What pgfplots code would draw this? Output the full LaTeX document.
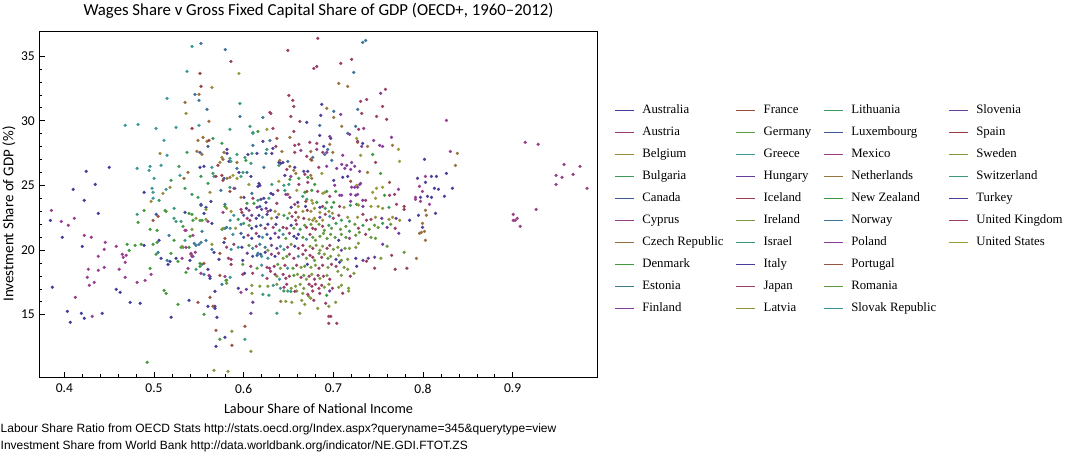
\documentclass[border=0pt]{standalone}
\usepackage{fontspec}
\usepackage{pgfplots}
\pgfplotsset{compat=1.18}
\setmainfont{Carlito}
\newfontfamily\labfont{Carlito}
\newfontfamily\legfont{Liberation Serif}
\newfontfamily\notefont{Liberation Sans}
\definecolor{AUS}{rgb}{0.247,0.240,0.600}
\definecolor{AUT}{rgb}{0.600,0.240,0.443}
\definecolor{BEL}{rgb}{0.600,0.547,0.240}
\definecolor{BGR}{rgb}{0.240,0.600,0.337}
\definecolor{CAN}{rgb}{0.240,0.354,0.600}
\definecolor{CYP}{rgb}{0.600,0.240,0.564}
\definecolor{CZE}{rgb}{0.600,0.426,0.240}
\definecolor{DNK}{rgb}{0.265,0.600,0.240}
\definecolor{EST}{rgb}{0.240,0.475,0.600}
\definecolor{FIN}{rgb}{0.515,0.240,0.600}
\definecolor{FRA}{rgb}{0.600,0.305,0.240}
\definecolor{DEU}{rgb}{0.385,0.600,0.240}
\definecolor{GRC}{rgb}{0.240,0.596,0.600}
\definecolor{HUN}{rgb}{0.394,0.240,0.600}
\definecolor{ISL}{rgb}{0.600,0.240,0.296}
\definecolor{IRL}{rgb}{0.506,0.600,0.240}
\definecolor{ISR}{rgb}{0.240,0.600,0.483}
\definecolor{ITA}{rgb}{0.273,0.240,0.600}
\definecolor{JPN}{rgb}{0.600,0.240,0.417}
\definecolor{LVA}{rgb}{0.600,0.573,0.240}
\definecolor{LTU}{rgb}{0.240,0.600,0.362}
\definecolor{LUX}{rgb}{0.240,0.328,0.600}
\definecolor{MEX}{rgb}{0.600,0.240,0.538}
\definecolor{NLD}{rgb}{0.600,0.452,0.240}
\definecolor{NZL}{rgb}{0.240,0.600,0.241}
\definecolor{NOR}{rgb}{0.240,0.449,0.600}
\definecolor{POL}{rgb}{0.541,0.240,0.600}
\definecolor{PRT}{rgb}{0.600,0.331,0.240}
\definecolor{ROU}{rgb}{0.360,0.600,0.240}
\definecolor{SVK}{rgb}{0.240,0.570,0.600}
\definecolor{SVN}{rgb}{0.420,0.240,0.600}
\definecolor{ESP}{rgb}{0.600,0.240,0.270}
\definecolor{SWE}{rgb}{0.481,0.600,0.240}
\definecolor{CHE}{rgb}{0.240,0.600,0.509}
\definecolor{TUR}{rgb}{0.299,0.240,0.600}
\definecolor{GBR}{rgb}{0.600,0.240,0.391}
\definecolor{USA}{rgb}{0.600,0.599,0.240}
\pgfplotsset{dot/.style={only marks, mark=*, mark size=1.55bp, forget plot, color=#1, mark options={line width=0.2bp}}}
\begin{document}
\begin{tikzpicture}
\path[use as bounding box] (0bp,0bp) rectangle (1069bp,456bp);
\begin{axis}[
  at={(39.3bp,78.7bp)}, anchor=south west,
  scale only axis, width=558.4bp, height=345.6bp,
  xmin=0.3721, xmax=0.9948, ymin=10.16, ymax=36.88,
  xtick={0.4,0.5,0.6,0.7,0.8,0.9}, ytick={15,20,25,30,35},
  minor x tick num=4, minor y tick num=4,
  xtick pos=bottom, ytick pos=left, tick align=inside,
  major tick length=5.5bp, minor tick length=3.2bp,
  axis line style={line width=0.8bp},
  tick style={black, line width=0.6bp},
  /pgf/number format/assume math mode=true,
  xticklabel style={font=\labfont\fontsize{13.5bp}{15bp}\selectfont, inner sep=0pt, yshift=-6.7bp, /pgf/number format/fixed, /pgf/number format/precision=1},
  yticklabel style={font=\labfont\fontsize{13.5bp}{15bp}\selectfont, inner sep=0pt, xshift=-4.3bp},
  title={Wages Share v Gross Fixed Capital Share of GDP (OECD+, 1960–2012)},
  every axis title/.style={font=\labfont\fontsize{16.8bp}{19bp}\selectfont, at={(axis description cs:0.5,1)}, anchor=base, yshift=15.7bp, inner sep=0pt},
  xlabel={Labour Share of National Income},
  xlabel style={font=\labfont\fontsize{14.2bp}{16bp}\selectfont, at={([yshift=-36.7bp]axis description cs:0.5,0)}, anchor=base, inner sep=0pt},
  ylabel={Investment Share of GDP (\%)},
  ylabel style={font=\labfont\fontsize{15bp}{17bp}\selectfont, at={([xshift=-26bp]axis description cs:0,0.4725)}, anchor=base, inner sep=0pt},
  legend columns=4, legend cell align=left,
  legend image code/.code={\draw[#1, line width=1.3bp] (0bp,0bp) -- (19bp,0bp);},
  legend style={draw=none, fill=none, inner sep=0pt, outer sep=0pt,
    at={(1.0297,0.790)}, anchor=north west, row sep=10bp,
    font=\legfont\fontsize{12.8bp}{14bp}\selectfont,
    nodes={inner sep=0pt, text height=9bp, text depth=3bp},
    /tikz/every odd column/.append style={column sep=7.7bp},
    /tikz/every even column/.append style={column sep=12bp}},
]
% indigo (Australia)
\addplot[dot=AUS] coordinates {(0.4245,26.08)(0.4501,26.39)(0.4100,24.69)(0.4345,25.08)(0.4890,24.46)(0.4222,23.84)(0.5524,23.53)(0.5635,23.76)(0.5513,26.39)(0.5557,26.47)
(0.3845,22.29)(0.3978,20.98)(0.4379,22.83)(0.4201,20.28)(0.5346,22.91)(0.5580,23.30)(0.5558,22.83)(0.5646,22.06)(0.5057,20.75)(0.4890,20.36)(0.5079,19.36)(0.5157,18.89)(0.5179,19.12)(0.5246,19.36)(0.5402,19.20)(0.5669,19.82)(0.5725,19.28)(0.5780,20.59)(0.5602,18.51)(0.5624,17.96)(0.5624,17.81)(0.3867,17.12)(0.4579,16.96)(0.4623,16.73)(0.4734,15.95)(0.4846,15.88)(0.4034,15.26)(0.4067,14.41)(0.4190,15.10)(0.4223,14.72)(0.4423,15.10)(0.5191,14.80)(0.5391,16.11)(0.5602,15.65)(0.5680,15.65)(0.5680,15.49)(0.5680,16.81)(0.5702,14.80)(0.5691,12.55)(0.5791,13.25)};
% indigo (Turkey)
\addplot[dot=TUR] coordinates {(0.6871,31.26)(0.6704,29.87)(0.6859,30.41)(0.6848,28.86)(0.6971,28.63)(0.6214,28.40)(0.6326,27.86)(0.6893,28.01)(0.7327,28.24)(0.5814,27.78)(0.5814,27.47)(0.6047,27.39)(0.6148,27.47)(0.6314,27.47)(0.5836,26.85)(0.6392,26.77)(0.6414,26.70)(0.6437,26.77)(0.5947,26.00)(0.6081,25.69)(0.6570,26.39)(0.6670,26.08)(0.6715,26.08)(0.7104,25.62)(0.7160,25.69)(0.7004,25.38)(0.6459,25.77)(0.6170,25.15)(0.6159,24.92)(0.6181,25.00)(0.6303,24.38)(0.6326,24.30)(0.6003,24.07)(0.6192,23.92)(0.6225,24.00)(0.6248,23.68)(0.6603,23.68)
(0.8016,27.01)(0.7938,25.54)(0.8094,25.69)(0.8150,25.69)(0.8261,25.92)(0.8027,25.23)(0.8127,24.77)(0.8172,24.69)(0.8328,24.77)(0.7972,24.07)(0.8050,24.15)(0.8094,24.07)(0.8239,24.15)(0.7949,22.68)(0.8139,22.83)(0.7994,21.75)};
% indigo (Italy)
\addplot[dot=ITA] coordinates {(0.603,23.22)(0.630,23.07)(0.653,23.30)(0.669,23.37)(0.685,23.30)(0.614,22.45)(0.617,22.68)(0.626,22.76)(0.637,22.53)(0.785,22.30)(0.609,21.68)(0.614,21.83)(0.627,21.99)(0.636,21.99)(0.653,21.91)(0.609,20.90)(0.617,21.06)(0.630,20.90)(0.656,21.06)(0.659,20.90)(0.661,21.21)(0.706,20.75)(0.598,20.21)(0.657,20.29)(0.599,19.20)(0.624,19.82)(0.635,19.51)(0.703,19.28)(0.725,19.36)(0.671,18.89)(0.707,19.05)(0.726,18.74)(0.601,18.20)(0.594,17.04)};
% blue (Canada)
\addplot[dot=CAN] coordinates {(0.5513,27.55)(0.5602,28.01)(0.5780,25.54)(0.5024,22.76)(0.5524,23.45)(0.618,23.37)(0.600,22.68)(0.619,21.91)(0.597,21.29)(0.600,20.98)(0.626,21.21)(0.610,19.51)(0.615,19.59)(0.619,19.67)};
% steel (Norway, Estonia)
\addplot[dot=NOR] coordinates {(0.5524,35.97)(0.5795,35.50)(0.5457,32.03)(0.5502,31.57)(0.5591,30.87)(0.5746,24.61)(0.5791,23.53)(0.7327,36.05)(0.7360,36.20)(0.7227,33.73)(0.5958,30.33)(0.7004,30.72)(0.7271,30.87)(0.6214,30.25)(0.6848,29.63)(0.7249,29.56)(0.7160,29.02)(0.6292,28.47)(0.6103,28.09)(0.6248,27.47)(0.6904,27.39)(0.6937,27.78)(0.6492,26.85)(0.6770,27.16)(0.6982,26.93)(0.5925,26.31)(0.6036,26.00)(0.6225,26.39)(0.6092,24.38)};
\addplot[dot=EST] coordinates {(0.5791,21.67)(0.5535,21.44)(0.5168,21.13)(0.5046,19.82)(0.5146,19.20)(0.5435,19.51)(0.5450,20.51)(0.5469,20.36)(0.5502,20.44)(0.5524,20.59)(0.5580,20.75)(0.5646,20.05)(0.5535,18.89)(0.5558,18.12)(0.5758,17.35)(0.581,21.75)(0.597,21.99)(0.618,20.44)(0.624,20.21)(0.616,19.75)};
% teal
\addplot[dot=GRC] coordinates {(0.5424,35.74)(0.5368,33.81)(0.5146,31.72)(0.4679,29.64)(0.4823,29.71)(0.5023,29.40)(0.5246,29.48)(0.5502,29.64)(0.5112,28.48)(0.5146,27.32)(0.4812,26.31)(0.4957,26.47)(0.5079,26.55)(0.4946,26.16)(0.5646,26.39)(0.5001,25.54)(0.5290,25.77)(0.5669,25.70)(0.4979,24.77)(0.4990,24.46)(0.5135,24.69)(0.4990,24.00)};
\addplot[dot=ISR] coordinates {(0.5958,31.33)(0.5847,29.33)(0.6070,29.56)(0.6103,29.09)(0.6103,29.02)(0.6259,27.78)(0.5925,27.39)(0.6092,27.47)(0.5847,27.08)(0.5858,26.85)(0.6014,27.16)(0.6081,26.70)(0.6392,26.54)(0.5992,26.00)(0.5970,25.69)(0.6314,25.07)(0.6448,25.00)(0.6503,25.07)(0.5847,24.85)(0.5903,24.77)(0.6459,24.61)(0.6159,23.84)(0.6281,24.00)(0.6659,24.15)(0.6704,23.92)};
\addplot[dot=CHE] coordinates {(0.4812,22.76)(0.5224,23.22)(0.5224,22.45)(0.5246,22.21)(0.5302,22.21)(0.5346,20.75)(0.5469,18.51)(0.6214,16.57)(0.6281,16.50)(0.6014,13.10)(0.6370,15.11)(0.6492,16.83)(0.6526,16.80)};
\addplot[dot=SVK] coordinates {(0.585,22.30)(0.589,22.68)(0.621,22.53)(0.696,22.60)(0.585,21.68)(0.588,21.21)(0.621,20.98)(0.644,21.21)(0.670,20.83)(0.586,20.05)(0.594,20.21)(0.610,20.13)(0.641,20.29)(0.645,20.05)(0.620,19.51)(0.627,19.36)(0.661,19.51)(0.620,18.82)(0.649,18.59)(0.585,17.89)(0.621,18.04)(0.640,17.74)(0.633,17.27)(0.641,17.04)};
% green
\addplot[dot=BGR] coordinates {(0.5657,28.63)(0.5757,28.25)(0.5368,27.55)(0.5279,26.47)(0.5524,25.70)(0.5190,25.39)(0.5657,25.93)(0.5057,23.84)(0.5346,24.77)(0.5424,24.30)(0.5491,24.07)(0.5602,25.15)};
\addplot[dot=DNK] coordinates {(0.4790,20.36)(0.4701,20.44)(0.4723,19.97)(0.4857,20.44)(0.4890,23.06)(0.4823,22.14)(0.4957,21.60)(0.5035,21.52)(0.5124,23.06)(0.5135,22.99)(0.5324,21.83)(0.5391,22.83)(0.5424,22.76)(0.5435,22.29)(0.5513,22.29)(0.5535,22.29)(0.5791,23.37)(0.5758,21.60)(0.5402,21.06)(0.5224,20.75)(0.4990,20.44)(0.5035,20.59)(0.5024,19.67)(0.5190,19.74)(0.5268,19.12)(0.5302,20.21)(0.5324,20.21)(0.5391,20.21)(0.5513,18.97)(0.5513,18.74)(0.5357,18.27)(0.5803,17.65)(0.4957,18.58)(0.5113,16.88)(0.5135,16.65)(0.5268,15.80)(0.5558,15.03)(0.5735,13.10)(0.4924,11.32)};
\addplot[dot=NZL] coordinates {(0.6159,29.17)(0.7438,27.39)(0.6025,26.93)(0.7527,25.92)(0.6715,25.62)(0.6615,25.54)(0.6515,25.46)(0.6792,25.07)(0.6682,24.46)(0.6759,24.61)(0.6926,24.53)(0.7026,24.53)(0.6036,23.61)(0.6114,23.61)(0.6815,23.68)(0.6926,23.68)(0.7004,23.68)(0.7571,24.23)(0.7260,23.53)(0.6926,16.50)(0.6448,16.83)};
\addplot[dot=LTU] coordinates {(0.691,23.22)(0.698,23.30)(0.719,23.45)(0.762,23.30)(0.594,22.37)(0.645,22.68)(0.649,22.45)(0.709,22.30)(0.718,22.22)(0.600,22.06)(0.640,21.52)(0.663,21.60)(0.695,21.91)(0.703,22.06)(0.718,21.45)(0.733,21.91)(0.755,22.06)};
\addplot[dot=ROU] coordinates {(0.714,20.98)(0.606,20.36)(0.713,20.13)(0.648,19.51)(0.679,19.20)(0.684,19.75)(0.694,19.36)(0.709,19.20)(0.599,18.89)(0.615,18.59)(0.638,18.89)(0.655,18.59)(0.668,18.74)(0.581,17.66)(0.656,18.04)(0.667,18.04)(0.581,17.43)};
% olive
\addplot[dot=BEL] coordinates {(0.5646,32.57)(0.5357,30.56)(0.5068,27.47)(0.5757,27.16)(0.5735,26.78)(0.5179,24.85)(0.5101,24.38)(0.4968,23.76)(0.5624,24.46)};
\addplot[dot=USA] coordinates {(0.5947,33.65)(0.6259,29.33)(0.7260,28.63)(0.7727,27.78)(0.7738,26.85)(0.7304,27.32)(0.6871,25.92)(0.5881,25.77)(0.5925,25.54)(0.6392,25.31)(0.7260,25.00)(0.6058,25.07)(0.6592,24.61)(0.6882,24.38)(0.6904,24.46)(0.7438,24.46)(0.7482,24.77)(0.7549,24.85)(0.6759,23.84)(0.6770,23.61)(0.7471,24.00)};
\addplot[dot=IRL] coordinates {(0.5469,22.45)(0.5580,23.14)(0.5580,22.37)(0.5769,21.67)(0.5424,21.60)(0.5313,20.28)(0.5646,20.44)(0.5669,10.70)(0.6092,16.65)(0.5869,13.72)(0.6081,12.17)(0.5825,10.62)(0.6470,16.03)(0.6537,15.96)(0.6626,15.11)(0.6648,16.11)(0.6681,15.80)(0.6659,16.65)(0.6726,16.42)(0.6748,16.27)(0.6826,15.49)(0.6949,15.65)(0.7026,15.96)(0.6592,16.83)(0.7171,16.83)};
\addplot[dot=LVA] coordinates {(0.581,23.22)(0.586,22.99)(0.635,22.99)(0.651,22.84)(0.661,23.37)(0.666,22.99)(0.675,22.99)(0.679,23.22)(0.685,22.91)(0.695,22.99)(0.699,22.84)(0.712,23.30)(0.728,23.48)(0.742,23.37)(0.750,23.37)(0.755,23.22)(0.631,22.45)(0.639,22.76)(0.673,22.37)(0.677,22.30)(0.679,22.45)(0.681,22.22)(0.688,22.30)(0.716,22.53)(0.727,22.53)(0.747,22.53)(0.762,22.37)(0.766,22.53)(0.774,22.30)(0.591,21.68)};
\addplot[dot=DEU] coordinates {(0.606,21.91)(0.656,21.68)(0.668,21.91)(0.675,21.99)(0.684,21.99)(0.690,21.52)(0.698,21.68)(0.708,21.60)(0.714,21.83)(0.724,21.99)(0.740,21.60)(0.746,21.91)(0.750,21.75)(0.764,21.99)(0.647,20.90)(0.666,20.98)(0.677,20.98)(0.680,20.75)(0.685,21.06)(0.689,21.29)(0.693,20.90)(0.697,21.21)(0.702,20.98)(0.709,21.21)(0.725,21.14)(0.729,21.37)(0.742,20.98)(0.747,20.90)(0.760,20.29)(0.779,19.82)};
\addplot[dot=SWE] coordinates {(0.627,19.98)(0.653,20.44)(0.674,20.29)(0.681,20.36)(0.685,19.98)(0.688,20.29)(0.700,20.05)(0.705,20.21)(0.718,20.13)(0.725,20.21)(0.728,20.52)(0.644,19.36)(0.670,19.36)(0.690,19.67)(0.697,19.51)(0.706,19.59)(0.716,19.28)(0.753,19.36)(0.641,18.59)(0.664,18.66)(0.675,18.66)(0.680,18.82)(0.694,18.66)(0.712,18.66)(0.716,18.51)(0.637,17.97)(0.660,18.12)(0.670,17.74)(0.676,18.12)(0.685,17.81)(0.693,18.04)(0.705,18.35)(0.709,18.04)(0.723,18.20)(0.609,17.27)(0.618,17.20)(0.627,17.20)(0.637,17.35)(0.653,17.04)(0.658,17.20)(0.663,17.35)(0.667,17.04)(0.690,17.12)(0.695,17.35)(0.706,17.12)(0.709,17.27)(0.717,17.04)};
% brown
\addplot[dot=CZE] coordinates {(0.5502,32.03)(0.5346,31.41)(0.5613,29.95)(0.5491,28.48)(0.5546,28.71)(0.5591,28.40)(0.5479,27.63)(0.5535,27.40)(0.5780,27.55)(0.5769,27.01)(0.5379,26.00)(0.5335,25.54)(0.8027,23.07)(0.8038,22.68)(0.7994,22.06)(0.7961,21.29)(0.7983,21.37)(0.8016,21.44)(0.8027,20.75)(0.7927,19.35)};
\addplot[dot=NLD] coordinates {(0.7060,32.88)(0.7160,32.65)(0.6926,30.95)(0.7004,30.25)(0.7093,29.56)(0.7271,28.32)(0.6515,28.71)(0.6960,28.17)(0.7382,28.01)(0.7660,28.09)(0.6426,27.62)(0.6748,27.62)(0.6993,27.55)(0.5925,26.77)(0.6403,26.93)(0.6759,26.93)(0.7382,26.00)(0.6515,26.47)(0.6559,26.16)(0.6581,25.92)(0.6748,25.77)(0.6759,25.54)(0.5847,25.62)(0.5814,25.54)(0.5970,24.07)(0.8383,27.47)(0.8361,26.54)(0.6414,16.03)(0.661,22.53)};
% red
\addplot[dot=ESP] coordinates {(0.5513,33.66)(0.5524,32.65)(0.5424,29.40)(0.5613,28.48)(0.5713,26.55)(0.5691,25.70)(0.5757,25.77)(0.5769,25.39)};
\addplot[dot=FRA] coordinates {(0.6370,28.63)(0.6748,27.01)(0.7193,25.31)(0.7627,25.23)(0.5847,24.53)(0.6704,24.53)(0.6492,24.30)(0.6693,23.76)};
\addplot[dot=PRT] coordinates {(0.4990,22.29)(0.5046,22.60)(0.5413,19.67)(0.5735,19.74)(0.5791,20.90)(0.5558,18.97)(0.5735,18.04)(0.5491,15.95)(0.5624,16.34)(0.5658,15.65)(0.5691,13.79)(0.6014,14.10)(0.5869,12.63)};
\addplot[dot=ISL] coordinates {(0.598,22.91)(0.658,22.91)(0.671,23.07)(0.779,23.37)(0.779,23.14)(0.677,20.13)(0.586,18.89)(0.769,18.51)(0.782,18.59)};
% maroon
\addplot[dot=JPN] coordinates {(0.6826,36.36)(0.6492,35.43)(0.5858,34.58)(0.7204,34.74)(0.7082,34.43)(0.6815,34.19)(0.6782,34.04)(0.7582,32.42)(0.6503,31.95)(0.6548,31.57)(0.6559,31.10)(0.7304,31.49)(0.7371,31.64)(0.7549,31.10)(0.6292,30.64)(0.6303,30.56)(0.6526,30.33)(0.6626,29.94)(0.7316,30.56)(0.7482,30.33)(0.7594,30.10)(0.6326,29.40)(0.6559,29.17)(0.7282,29.33)(0.7271,28.40)(0.6359,28.01)(0.6570,28.09)(0.6615,28.17)(0.6737,28.32)(0.6815,28.24)(0.6570,27.55)(0.6882,27.55)(0.6704,27.24)(0.7471,26.77)(0.6481,26.23)(0.6682,25.85)(0.6837,26.39)(0.6615,25.07)(0.6715,25.23)(0.6381,24.61)(0.6826,24.53)(0.7683,24.30)(0.6103,24.00)(0.6370,23.61)(0.6960,24.15)(0.7360,23.84)(0.7627,24.23)(0.6570,23.53)(0.7705,23.53)};
\addplot[dot=GBR] coordinates {(0.6715,16.57)(0.6782,16.11)(0.6848,16.65)(0.6915,15.88)(0.7104,16.65)(0.6949,14.87)(0.6971,14.87)(0.6949,14.33)(0.7038,14.33)(0.6570,16.80)(0.6770,16.83)
(0.688,23.37)(0.707,23.37)(0.658,22.30)(0.667,22.45)(0.691,22.76)(0.706,22.68)(0.733,22.76)(0.737,22.30)(0.742,22.37)(0.648,21.68)(0.670,21.75)(0.677,21.68)(0.680,21.60)(0.688,21.83)(0.728,21.68)(0.769,21.68)(0.674,21.21)(0.736,21.21)(0.661,20.13)(0.666,20.36)(0.693,20.13)(0.639,19.75)(0.651,19.67)(0.656,19.36)(0.666,19.67)(0.674,19.59)(0.677,19.44)(0.687,19.44)(0.765,19.59)(0.646,18.82)(0.659,18.82)(0.684,18.59)(0.688,18.82)(0.698,18.89)(0.703,18.74)(0.737,19.13)(0.746,18.59)(0.647,17.81)(0.651,17.97)(0.664,17.89)(0.673,17.97)(0.679,17.74)(0.683,18.04)(0.696,17.74)(0.719,17.97)(0.645,17.12)(0.648,17.35)(0.673,17.35)(0.676,17.20)(0.680,17.35)(0.684,17.04)(0.687,17.27)(0.699,17.04)};
% magenta
\addplot[dot=POL] coordinates {(0.7316,28.01)(0.6637,27.70)(0.6815,27.78)(0.6926,27.55)(0.7104,27.32)(0.7093,26.62)(0.7149,26.54)(0.7204,26.77)(0.6526,25.69)(0.7271,24.85)(0.5892,24.77)(0.7727,24.69)(0.6470,24.30)(0.7093,24.23)(0.7271,24.30)(0.7193,23.76)};
\addplot[dot=CYP] coordinates {(0.8261,30.02)(0.8305,27.62)(0.8027,25.69)(0.7961,24.92)(0.7994,24.53)(0.7916,24.07)(0.7916,23.92)(0.7972,23.76)(0.8072,23.53)
(0.3856,23.06)(0.3967,22.21)(0.4045,21.91)(0.4112,22.45)(0.4223,21.13)(0.4301,20.98)(0.4456,20.59)(0.4445,20.05)(0.4379,19.51)(0.4579,20.28)(0.4646,19.67)(0.4657,19.43)(0.4690,19.59)(0.4679,19.05)(0.5602,22.21)(0.5769,22.91)(0.5346,21.52)(0.5357,21.52)(0.5435,21.13)(0.5313,19.36)(0.5357,20.21)(0.5413,19.74)(0.5424,19.51)(0.5461,19.82)(0.5380,18.58)(0.5524,18.20)(0.5613,18.04)(0.5791,17.96)(0.4968,18.12)(0.4901,17.65)(0.4812,17.50)(0.4679,17.89)(0.4612,18.51)(0.4445,18.66)(0.4379,18.43)(0.4268,18.51)(0.4256,17.89)(0.4334,17.50)(0.4279,17.27)(0.4123,16.34)(0.4312,14.87)(0.5970,16.73)};
\addplot[dot=MEX] coordinates {(0.9140,28.32)(0.9284,28.17)(0.9573,26.62)(0.9751,26.47)(0.9484,25.77)(0.9551,25.62)(0.9674,25.85)(0.9484,25.07)(0.9829,24.77)(0.9006,22.76)(0.9262,23.14)(0.9006,22.29)(0.9028,22.29)(0.9051,22.45)(0.9084,21.83)};
\addplot[dot=AUT] coordinates {(0.597,23.14)(0.606,23.07)(0.627,22.99)(0.604,22.45)(0.607,22.30)(0.654,22.60)(0.700,22.45)(0.624,21.68)(0.633,21.75)(0.644,21.75)(0.659,21.99)(0.605,21.14)(0.614,21.29)(0.651,21.29)(0.718,20.90)(0.581,20.21)(0.589,20.44)(0.614,20.29)(0.649,20.21)(0.669,19.98)(0.696,20.36)(0.583,19.36)(0.586,19.28)(0.631,19.67)(0.608,18.74)(0.626,18.66)(0.629,18.59)(0.634,18.74)(0.599,18.12)(0.610,18.20)(0.626,17.81)(0.630,18.35)(0.635,18.12)(0.644,18.12)(0.689,17.97)};
% purple
\addplot[dot=FIN] coordinates {(0.7527,32.11)(0.7082,30.48)(0.7338,29.40)(0.7182,28.94)(0.6960,28.78)(0.7449,28.47)(0.7649,28.71)(0.7516,28.09)(0.7549,28.01)(0.7238,26.47)(0.7037,26.31)(0.7127,26.31)(0.7193,26.23)(0.7293,26.08)(0.6926,26.47)(0.7015,25.00)(0.7293,25.07)(0.7304,25.15)(0.7204,24.85)(0.7238,24.85)(0.6515,24.07)(0.7071,24.23)(0.7193,24.30)(0.7249,24.23)(0.7327,23.84)};
\addplot[dot=HUN] coordinates {(0.6103,15.96)(0.6081,15.11)(0.6960,16.83)};
\addplot[dot=SVN] coordinates {(0.615,23.30)(0.620,23.14)(0.625,23.22)(0.733,23.37)(0.609,22.68)(0.685,22.53)(0.754,22.45)(0.770,22.45)(0.760,21.75)(0.773,21.29)(0.635,21.29)(0.639,20.98)(0.755,20.44)(0.631,20.36)(0.637,20.13)(0.709,19.98)(0.604,19.75)(0.733,19.20)(0.739,19.36)(0.746,19.44)(0.603,16.96)};
% legend (row-major order so that it reads down the columns)
\addlegendimage{AUS}\addlegendentry{Australia}
\addlegendimage{FRA}\addlegendentry{France}
\addlegendimage{LTU}\addlegendentry{Lithuania}
\addlegendimage{SVN}\addlegendentry{Slovenia}
\addlegendimage{AUT}\addlegendentry{Austria}
\addlegendimage{DEU}\addlegendentry{Germany}
\addlegendimage{LUX}\addlegendentry{Luxembourg}
\addlegendimage{ESP}\addlegendentry{Spain}
\addlegendimage{BEL}\addlegendentry{Belgium}
\addlegendimage{GRC}\addlegendentry{Greece}
\addlegendimage{MEX}\addlegendentry{Mexico}
\addlegendimage{SWE}\addlegendentry{Sweden}
\addlegendimage{BGR}\addlegendentry{Bulgaria}
\addlegendimage{HUN}\addlegendentry{Hungary}
\addlegendimage{NLD}\addlegendentry{Netherlands}
\addlegendimage{CHE}\addlegendentry{Switzerland}
\addlegendimage{CAN}\addlegendentry{Canada}
\addlegendimage{ISL}\addlegendentry{Iceland}
\addlegendimage{NZL}\addlegendentry{New Zealand}
\addlegendimage{TUR}\addlegendentry{Turkey}
\addlegendimage{CYP}\addlegendentry{Cyprus}
\addlegendimage{IRL}\addlegendentry{Ireland}
\addlegendimage{NOR}\addlegendentry{Norway}
\addlegendimage{GBR}\addlegendentry{United Kingdom}
\addlegendimage{CZE}\addlegendentry{Czech Republic}
\addlegendimage{ISR}\addlegendentry{Israel}
\addlegendimage{POL}\addlegendentry{Poland}
\addlegendimage{USA}\addlegendentry{United States}
\addlegendimage{DNK}\addlegendentry{Denmark}
\addlegendimage{ITA}\addlegendentry{Italy}
\addlegendimage{PRT}\addlegendentry{Portugal}
\addlegendimage{empty legend}\addlegendentry{}
\addlegendimage{EST}\addlegendentry{Estonia}
\addlegendimage{JPN}\addlegendentry{Japan}
\addlegendimage{ROU}\addlegendentry{Romania}
\addlegendimage{empty legend}\addlegendentry{}
\addlegendimage{FIN}\addlegendentry{Finland}
\addlegendimage{LVA}\addlegendentry{Latvia}
\addlegendimage{SVK}\addlegendentry{Slovak Republic}
\end{axis}
\node[anchor=base west, inner sep=0pt, font=\notefont\fontsize{12bp}{14bp}\selectfont] at (0.5bp,23.3bp) {Labour Share Ratio from OECD Stats http://stats.oecd.org/Index.aspx?queryname=345\&querytype=view};
\node[anchor=base west, inner sep=0pt, font=\notefont\fontsize{12bp}{14bp}\selectfont] at (0.5bp,6.7bp) {Investment Share from World Bank http://data.worldbank.org/indicator/NE.GDI.FTOT.ZS};
\end{tikzpicture}
\end{document}
